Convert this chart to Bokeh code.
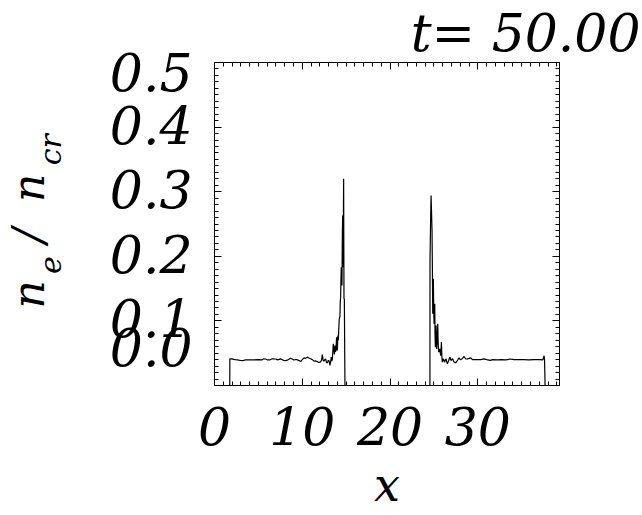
from bokeh.plotting import figure
from bokeh.models import LinearAxis, FixedTicker, SingleIntervalTicker, Range1d, Title
from bokeh.embed import file_html
from bokeh.resources import INLINE

# ---- data ----
x_vals = [0.0, 1.74, 1.75, 2.00, 2.20, 2.40, 2.60, 2.97, 3.20, 3.34, 3.53, 4.00, 4.50, 5.00,
          5.43, 5.62, 5.80, 6.00, 6.30, 6.58, 6.95, 7.20, 7.53, 7.70, 7.91, 8.10, 8.29, 8.47,
          8.66, 8.85, 9.04, 9.25, 9.43, 9.62, 9.81, 10.00, 10.19, 10.38, 10.57, 10.76, 10.95,
          11.14, 11.33, 11.52, 11.71, 11.90, 12.09, 12.20, 12.28, 12.38, 12.47, 12.56, 12.66,
          12.75, 12.85, 12.95, 13.04, 13.15, 13.22, 13.30, 13.36, 13.41, 13.47, 13.53, 13.60,
          13.66, 13.72, 13.78, 13.83, 13.91, 13.96, 13.99, 14.06, 14.10, 14.14, 14.21, 14.29,
          14.33, 14.37, 14.40, 14.44, 14.48, 14.52, 14.56, 14.60, 14.64, 14.67, 14.69, 14.71,
          14.75, 14.79, 14.86,
          24.54, 24.55, 24.61, 24.67, 24.72, 24.78, 24.82, 24.86, 24.90, 24.93, 24.97, 25.01,
          25.05, 25.09, 25.12, 25.16, 25.20, 25.24, 25.28, 25.31, 25.37, 25.43, 25.48, 25.54,
          25.60, 25.66, 25.72, 25.77, 25.81, 25.85, 25.90, 25.96, 26.02, 26.08, 26.15, 26.23,
          26.30, 26.38, 26.45, 26.53, 26.60, 26.68, 26.75, 26.83, 26.90, 26.98, 27.06, 27.14,
          27.22, 27.29, 27.40, 27.48, 27.58, 27.67, 27.76, 27.86, 27.95, 28.05, 28.24, 28.43,
          28.62, 28.81, 29.00, 29.19, 29.38, 29.57, 29.95, 30.33, 30.70, 31.00, 31.40, 31.70,
          32.20, 32.70, 33.20, 33.70, 34.10, 34.60, 35.20, 35.80, 36.40, 37.00, 37.40, 37.55,
          37.60, 37.66, 39.30]
ne_vals = [0.0, 0.0, 0.0413, 0.0413, 0.0405, 0.0400, 0.0397, 0.0387, 0.0385, 0.0390, 0.0397,
           0.0398, 0.0397, 0.0399, 0.0397, 0.0413, 0.0410, 0.0398, 0.0397, 0.0413, 0.0410,
           0.0397, 0.0413, 0.0400, 0.0387, 0.0385, 0.0392, 0.0405, 0.0423, 0.0410, 0.0395,
           0.0402, 0.0400, 0.0385, 0.0371, 0.0400, 0.0428, 0.0420, 0.0439, 0.0425, 0.0413,
           0.0400, 0.0377, 0.0380, 0.0370, 0.0356, 0.0365, 0.0400, 0.0480, 0.0390, 0.0377,
           0.0400, 0.0413, 0.0360, 0.0346, 0.0387, 0.0387, 0.0310, 0.0360, 0.0439, 0.0380,
           0.0397, 0.0500, 0.0645, 0.0542, 0.0480, 0.0619, 0.0520, 0.0542, 0.0748, 0.0560,
           0.0542, 0.0774, 0.0700, 0.0826, 0.1032, 0.1068, 0.1300, 0.1368, 0.1600, 0.1832,
           0.1700, 0.1548, 0.2300, 0.2632, 0.2200, 0.1832, 0.2800, 0.3199, 0.1342, 0.1342, 0.0,
           0.0, 0.1935, 0.2500, 0.2941, 0.2700, 0.2399, 0.1800, 0.1110, 0.1400, 0.1651, 0.1200,
           0.0955, 0.1050, 0.1264, 0.0800, 0.0593, 0.0750, 0.0929, 0.0700, 0.0567, 0.0700,
           0.0955, 0.0650, 0.0516, 0.0540, 0.0567, 0.0500, 0.0464, 0.0560, 0.0671, 0.0450,
           0.0361, 0.0390, 0.0413, 0.0380, 0.0361, 0.0400, 0.0413, 0.0370, 0.0335, 0.0360,
           0.0387, 0.0420, 0.0439, 0.0400, 0.0387, 0.0410, 0.0413, 0.0380, 0.0361, 0.0360,
           0.0350, 0.0370, 0.0387, 0.0410, 0.0428, 0.0410, 0.0397, 0.0420, 0.0449, 0.0410,
           0.0413, 0.0420, 0.0428, 0.0400, 0.0402, 0.0402, 0.0400, 0.0413, 0.0400, 0.0390,
           0.0400, 0.0398, 0.0400, 0.0397, 0.0410, 0.0400, 0.0399, 0.0400, 0.0398, 0.0400,
           0.0400, 0.0398, 0.0460, 0.0380, 0.0, 0.0]

x_tick_values = [0, 10, 20, 30]
x_tick_labels = ["0", "10", "20", "30"]
y_tick_labels = ["0.0", "0.1", "0.2", "0.3", "0.4", "0.5"]
title_text = "t= 50.00"
xlabel_text = "x"
ylabel_main = ["n", "/", "n"]      # n_e / n_cr
ylabel_sub = ["e", "cr"]

# ---- layout / style constants ----
X_END = 39.3
Y_END = 0.5
y_label_positions = [0.059, 0.104, 0.204, 0.304, 0.404, 0.485]  # where the reference prints them
ylabel_main_positions = [0.141, 0.232, 0.306]
ylabel_sub_positions = [0.1865, 0.365]
FONT = "DejaVu Serif"
BIG = "52px"

p = figure(frame_width=345, frame_height=323,
           x_range=Range1d(0, X_END), y_range=Range1d(0, Y_END),
           output_backend="svg", toolbar_location=None,
           x_axis_location=None, y_axis_location=None,
           min_border_left=214, min_border_right=83, min_border_top=62, min_border_bottom=130)
p.outline_line_color = "black"
p.outline_line_width = 1
p.background_fill_color = "white"
p.border_fill_color = "white"
p.grid.visible = False


def tick_axis(ticker, with_labels=False):
    ax = LinearAxis(ticker=ticker)
    ax.axis_line_color = "black"
    ax.axis_line_width = 1
    ax.major_tick_in = 7
    ax.major_tick_out = 0
    ax.minor_tick_in = 4
    ax.minor_tick_out = 0
    ax.major_tick_line_color = "black"
    ax.minor_tick_line_color = "black"
    if not with_labels:
        ax.major_label_text_color = None
        ax.major_label_text_font_size = "1px"
        ax.major_label_standoff = 0
    return ax


def text_axis(positions, labels, size, standoff, orientation="horizontal"):
    ax = LinearAxis(ticker=FixedTicker(ticks=positions))
    ax.major_label_overrides = {v: s for v, s in zip(positions, labels)}
    ax.axis_line_color = None
    ax.major_tick_line_color = None
    ax.minor_tick_line_color = None
    ax.major_tick_in = 0
    ax.major_tick_out = 0
    ax.minor_tick_in = 0
    ax.minor_tick_out = 0
    ax.major_label_standoff = standoff
    ax.major_label_orientation = orientation
    ax.major_label_text_font = FONT
    ax.major_label_text_font_style = "italic"
    ax.major_label_text_font_size = size
    ax.major_label_text_color = "black"
    return ax


# bottom: ticks + labels + axis title
bottom = tick_axis(SingleIntervalTicker(interval=10, num_minor_ticks=10), with_labels=True)
bottom.major_label_overrides = {v: s for v, s in zip(x_tick_values, x_tick_labels)}
bottom.major_label_text_font = FONT
bottom.major_label_text_font_style = "italic"
bottom.major_label_text_font_size = BIG
bottom.major_label_text_color = "black"
bottom.major_label_standoff = 21
bottom.axis_label = xlabel_text
bottom.axis_label_text_font = FONT
bottom.axis_label_text_font_style = "italic"
bottom.axis_label_text_font_size = "46px"
bottom.axis_label_text_color = "black"
bottom.axis_label_standoff = 10
p.add_layout(bottom, "below")

p.add_layout(tick_axis(SingleIntervalTicker(interval=10, num_minor_ticks=10)), "above")
p.add_layout(tick_axis(SingleIntervalTicker(interval=0.1, num_minor_ticks=10)), "left")
p.add_layout(tick_axis(SingleIntervalTicker(interval=0.1, num_minor_ticks=10)), "right")

# y tick labels (placed where the reference prints them)
p.add_layout(text_axis(y_label_positions, y_tick_labels, BIG, 22), "left")
# y axis title: n_e / n_cr, rotated, built from subscripts + main letters
p.add_layout(text_axis(ylabel_sub_positions, ylabel_sub, "30px", 38, "vertical"), "left")
p.add_layout(text_axis(ylabel_main_positions, ylabel_main, "44px", -24, "vertical"), "left")

# title at the top right
p.add_layout(Title(text=title_text, align="right", offset=-81, standoff=0,
                   text_line_height=0.6,
                   text_font=FONT, text_font_style="italic", text_font_size=BIG,
                   text_color="black"), "above")

p.line(x_vals, ne_vals, line_color="black", line_width=1.2)

open("out.html", "w").write(file_html(p, INLINE))
